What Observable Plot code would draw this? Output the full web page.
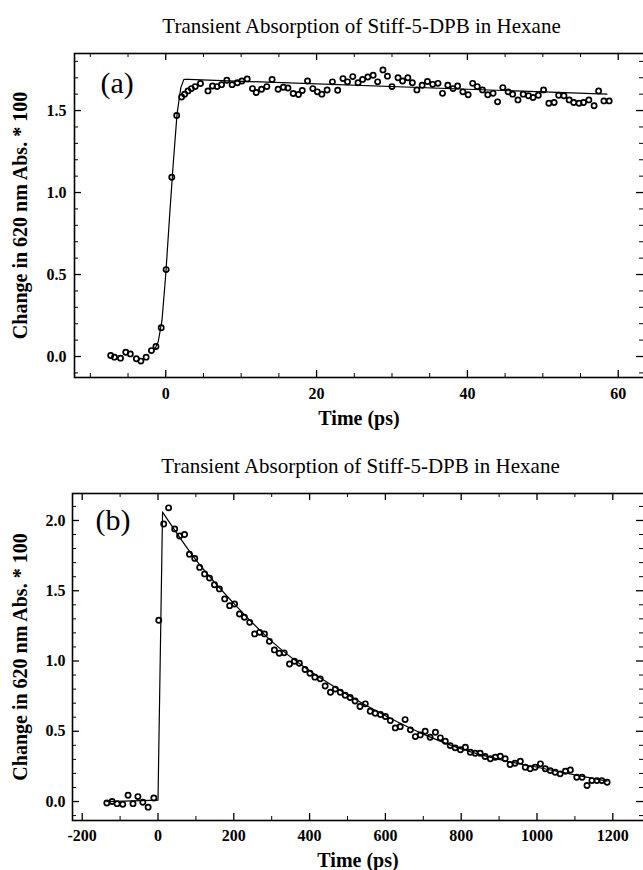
<!DOCTYPE html>
<html><head><meta charset="utf-8">
<script src="https://cdn.jsdelivr.net/npm/d3@7"></script>
<script src="https://cdn.jsdelivr.net/npm/@observablehq/plot@0.6"></script>
<style>
html,body{margin:0;padding:0;background:#fff;overflow:hidden;width:643px;height:870px;position:relative}
#a{position:absolute;left:0;top:0}
#b{position:absolute;left:0;top:435px}
</style></head><body>
<div id="a"></div><div id="b"></div>
<script>
const titleText = "Transient Absorption of Stiff-5-DPB in Hexane";
const xLabel = "Time (ps)";
const yLabel = "Change in 620 nm Abs. * 100";
const panelLabels = ["(a)", "(b)"];

// Panel (a) data
const timeA = [-7.3,-6.8,-6.0,-5.3,-4.7,-3.9,-3.3,-2.6,-1.9,-1.3,-0.6,0.05,0.8,1.45,2.1,2.5,2.95,3.4,3.9,4.6,5.6,6.2,6.8,7.4,8.1,8.8,9.5,10.1,10.8,11.5,12.0,12.7,13.4,14.1,14.9,15.6,16.2,16.9,17.6,18.1,18.8,19.5,20.1,20.7,21.4,22.1,22.8,23.5,24.1,24.8,25.5,26.1,26.8,27.5,28.1,28.8,29.4,30.0,30.8,31.4,32.1,32.7,33.3,34.0,34.7,35.4,36.1,36.7,37.4,38.1,38.7,39.4,40.1,40.7,41.3,42.0,42.7,43.4,44.0,44.7,45.4,46.0,46.7,47.4,48.1,48.7,49.4,50.1,50.8,51.5,52.1,52.8,53.5,54.1,54.8,55.4,56.1,56.8,57.4,58.1,58.8];
const absA = [0.006,-0.004,-0.01,0.026,0.016,-0.014,-0.028,-0.004,0.036,0.061,0.175,0.53,1.093,1.47,1.583,1.60,1.62,1.634,1.646,1.665,1.62,1.65,1.646,1.658,1.685,1.658,1.67,1.68,1.693,1.634,1.61,1.63,1.646,1.69,1.63,1.642,1.638,1.604,1.598,1.622,1.68,1.634,1.614,1.60,1.625,1.675,1.624,1.695,1.675,1.707,1.67,1.69,1.705,1.715,1.675,1.748,1.71,1.646,1.70,1.68,1.70,1.67,1.626,1.654,1.677,1.66,1.666,1.605,1.654,1.634,1.65,1.614,1.596,1.666,1.646,1.626,1.596,1.605,1.553,1.64,1.614,1.60,1.565,1.60,1.59,1.58,1.593,1.626,1.545,1.549,1.593,1.59,1.565,1.549,1.545,1.549,1.565,1.529,1.62,1.559,1.559];
const fitTimeA = [-1.5,-1.0,-0.5,0,0.5,1.0,1.5,2.0,2.4,3.0,58.5];
const fitAbsA = [0.04,0.09,0.22,0.50,0.85,1.18,1.48,1.64,1.69,1.69,1.60];

// Panel (b) data
const timeB = [-135,-121,-108,-93,-79,-66,-53,-40,-26,-11,2,15,28,44,57,70,83,97,110,123,136,149,162,176,189,202,215,228,242,255,268,281,294,307,320,333,347,360,373,388,401,414,428,441,455,468,481,494,507,520,533,547,560,573,587,600,613,626,639,652,666,679,692,705,718,732,745,758,771,784,798,811,824,837,850,863,877,890,903,916,929,942,956,969,982,995,1009,1022,1035,1048,1061,1075,1088,1105,1119,1132,1145,1158,1171,1185];
const absB = [-0.01,0.0,-0.015,-0.02,0.045,-0.015,0.035,-0.005,-0.04,0.025,1.29,1.975,2.09,1.94,1.89,1.90,1.76,1.73,1.666,1.62,1.59,1.543,1.513,1.442,1.394,1.406,1.335,1.311,1.275,1.193,1.204,1.193,1.14,1.079,1.055,1.058,0.979,0.998,0.984,0.94,0.913,0.885,0.873,0.822,0.778,0.80,0.778,0.756,0.74,0.715,0.676,0.695,0.642,0.628,0.619,0.605,0.576,0.524,0.533,0.583,0.51,0.462,0.474,0.50,0.457,0.493,0.453,0.429,0.398,0.382,0.368,0.386,0.351,0.344,0.344,0.32,0.304,0.315,0.322,0.304,0.263,0.272,0.287,0.244,0.233,0.244,0.268,0.233,0.22,0.208,0.197,0.216,0.225,0.173,0.173,0.114,0.149,0.149,0.149,0.137];
const fitTimeB = [-135,0,12,100,200,300,400,500,600,700,800,900,1000,1100,1185];
const fitAbsB = [0,0.01,2.06,1.72,1.41,1.14,0.93,0.76,0.61,0.48,0.375,0.30,0.244,0.19,0.145];

// Tick values
const xMajorA = [0,20,40,60];
const xMinorA = [-10,-5,0,5,10,15,20,25,30,35,40,45,50,55,60];
const yMajorA = [0,0.5,1.0,1.5];
const yMinorA = [-0.1,0,0.1,0.2,0.3,0.4,0.5,0.6,0.7,0.8,0.9,1.0,1.1,1.2,1.3,1.4,1.5,1.6,1.7,1.8];
const xMajorB = [-200,0,200,400,600,800,1000,1200];
const xMinorB = [-200,-100,0,100,200,300,400,500,600,700,800,900,1000,1100,1200];
const yMajorB = [0,0.5,1.0,1.5,2.0];
const yMinorB = [-0.1,0,0.1,0.2,0.3,0.4,0.5,0.6,0.7,0.8,0.9,1.0,1.1,1.2,1.3,1.4,1.5,1.6,1.7,1.8,1.9,2.0,2.1];

function panel(cfg) {
  const W = 643;
  const plotW = W - cfg.ml;
  const plotH = cfg.h - cfg.mt - cfg.mb;
  const pts = cfg.time.map((t, i) => ({t, v: cfg.abs[i]}));
  const fit = cfg.fitT.map((t, i) => ({t, v: cfg.fitY[i]}));
  const fit1 = fit.slice(0, cfg.split + 1);
  const fit2 = fit.slice(cfg.split);
  const isMajX = new Set(cfg.xMajor), isMajY = new Set(cfg.yMajor);
  const minX = cfg.xMinor.filter(d => !isMajX.has(d));
  const minY = cfg.yMinor.filter(d => !isMajY.has(d));
  return Plot.plot({
    width: W, height: cfg.h,
    marginLeft: cfg.ml, marginRight: 0, marginTop: cfg.mt, marginBottom: cfg.mb,
    x: {domain: cfg.xDomain},
    y: {domain: cfg.yDomain},
    style: {fontFamily: "'Liberation Serif','Times New Roman',serif", fontSize: "16px", fontWeight: "bold", background: "white", color: "black", overflow: "visible"},
    marks: [
      Plot.frame({stroke: "black", strokeWidth: 1.6, insetRight: -3}),
      Plot.axisX(cfg.xMajor, {tickSize: 0, tickPadding: cfg.xPad, tickFormat: d => String(d), label: null, fontSize: 16, fontWeight: "bold"}),
      Plot.axisY(cfg.yMajor, {tickSize: 0, tickPadding: cfg.yPad, tickFormat: d3.format(".1f"), label: null, fontSize: 16, fontWeight: "bold"}),
      // bottom & top ticks
      Plot.tickX(cfg.xMajor, {x: d => d, insetTop: plotH - 7, stroke: "black", strokeWidth: 1.3}),
      Plot.tickX(minX, {x: d => d, insetTop: plotH - 4, stroke: "black", strokeWidth: 1}),
      Plot.tickX(cfg.xMajor, {x: d => d, insetBottom: plotH - 7, stroke: "black", strokeWidth: 1.3}),
      Plot.tickX(minX, {x: d => d, insetBottom: plotH - 4, stroke: "black", strokeWidth: 1}),
      // left & right ticks
      Plot.tickY(cfg.yMajor, {y: d => d, insetRight: plotW - 7, stroke: "black", strokeWidth: 1.3}),
      Plot.tickY(minY, {y: d => d, insetRight: plotW - 4, stroke: "black", strokeWidth: 1}),
      Plot.tickY(cfg.yMajor, {y: d => d, insetLeft: plotW - 7, stroke: "black", strokeWidth: 1.3}),
      Plot.tickY(minY, {y: d => d, insetLeft: plotW - 4, stroke: "black", strokeWidth: 1}),
      // fit
      Plot.line(fit1, {x: "t", y: "v", stroke: "black", strokeWidth: 1.2}),
      Plot.line(fit2, {x: "t", y: "v", stroke: "black", strokeWidth: 1.2, curve: cfg.curve2}),
      // data
      Plot.dot(pts, {x: "t", y: "v", r: 2.6, stroke: "black", strokeWidth: 1.7, fill: "none"}),
      // texts
      Plot.text([titleText], {frameAnchor: "top", dx: 2.5, dy: -21, lineAnchor: "bottom", fontSize: 21, fontWeight: "normal"}),
      Plot.text([xLabel], {frameAnchor: "bottom", dy: cfg.xLabDy, lineAnchor: "middle", fontSize: 20, fontWeight: "bold"}),
      Plot.text([yLabel], {frameAnchor: "left", dx: cfg.yLabDx, rotate: -90, textAnchor: "middle", lineAnchor: "middle", fontSize: 20, fontWeight: "bold"}),
      Plot.text([cfg.tag], {frameAnchor: "top-left", dx: cfg.tagDx, dy: cfg.tagDy, textAnchor: "start", lineAnchor: "middle", fontSize: 30, fontWeight: "normal"})
    ]
  });
}

document.getElementById("a").append(panel({
  time: timeA, abs: absA, fitT: fitTimeA, fitY: fitAbsA, split: 9, curve2: "linear",
  h: 435, mt: 53, mb: 58, ml: 74,
  xDomain: [-12.1, 63.35], yDomain: [-0.128, 1.848],
  xMajor: xMajorA, xMinor: xMinorA, yMajor: yMajorA, yMinor: yMinorA,
  xPad: 10, yPad: 8, xLabDy: 41, yLabDx: -54, tag: panelLabels[0], tagDx: 26, tagDy: 30
}));
document.getElementById("b").append(panel({
  time: timeB, abs: absB, fitT: fitTimeB, fitY: fitAbsB, split: 2, curve2: "monotone-x",
  h: 435, mt: 58, mb: 50, ml: 72,
  xDomain: [-225.6, 1281], yDomain: [-0.135, 2.192],
  xMajor: xMajorB, xMinor: xMinorB, yMajor: yMajorB, yMinor: yMinorB,
  xPad: 9, yPad: 7, xLabDy: 40, yLabDx: -52, tag: panelLabels[1], tagDx: 23, tagDy: 27
}));
</script>
</body></html>
